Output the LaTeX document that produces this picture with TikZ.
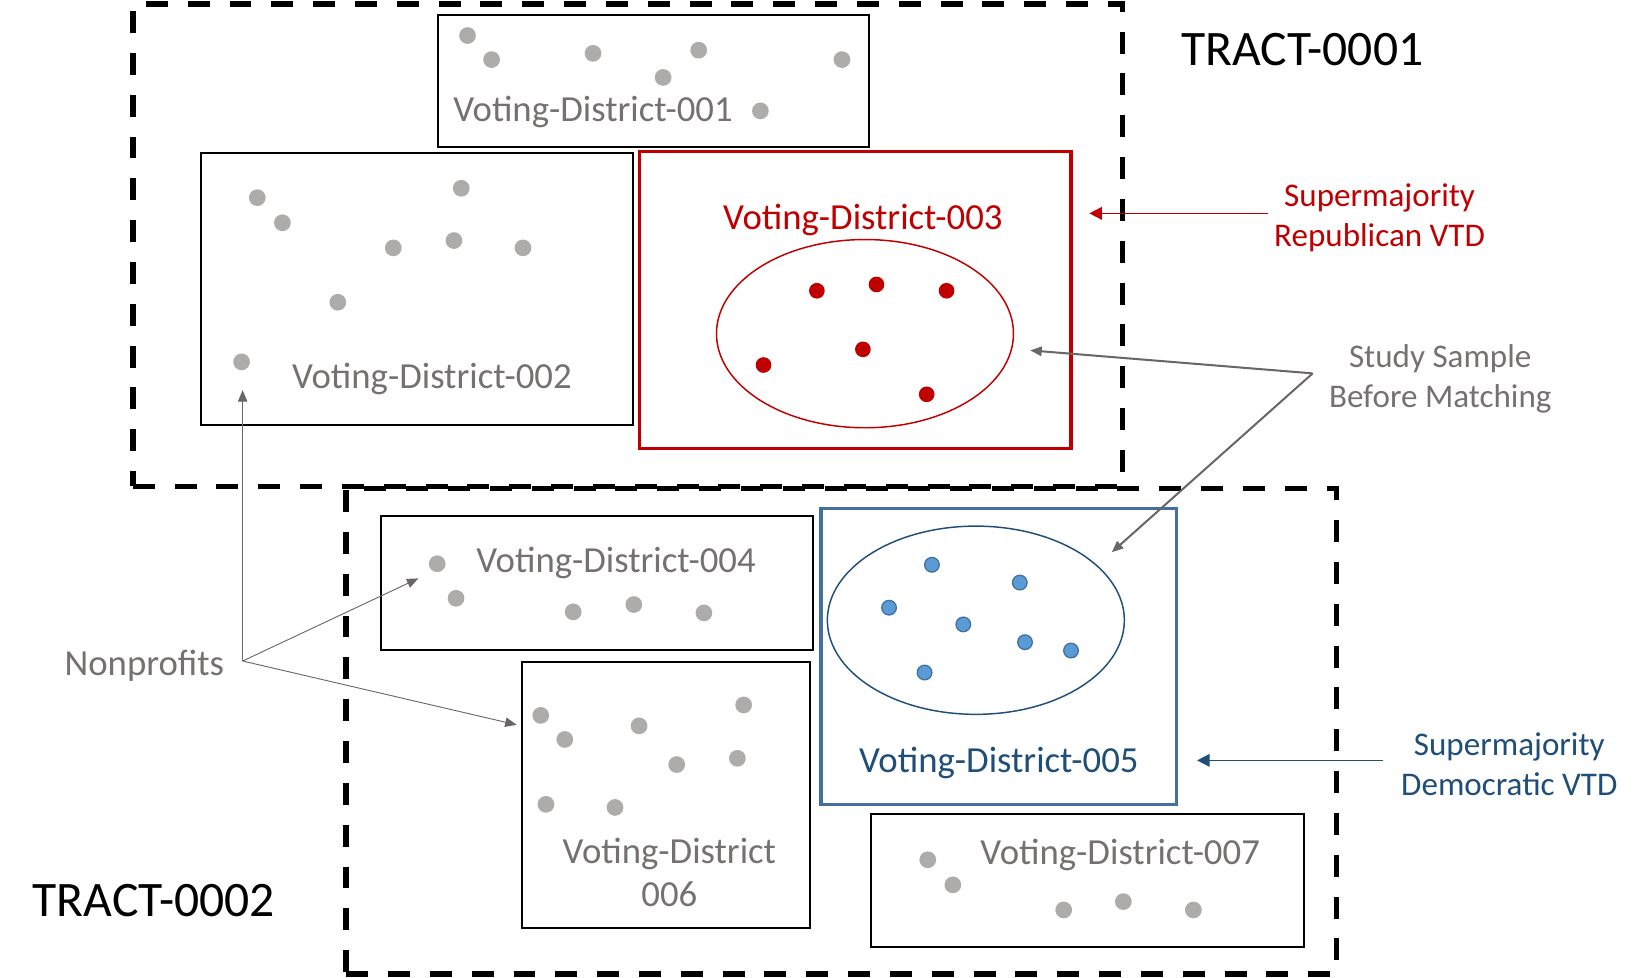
\documentclass[tikz,border=0pt]{standalone}
\usepackage{fontspec}
\setmainfont{Carlito}
\usetikzlibrary{arrows.meta, positioning, shapes.geometric, fit}
\definecolor{txtgray}{HTML}{767171}
\definecolor{dotgray}{HTML}{AEABAB}
\definecolor{repred}{HTML}{C00000}
\definecolor{demblue}{HTML}{41719C}
\definecolor{demnavy}{HTML}{1F4E79}
\definecolor{dotblue}{HTML}{5B9BD5}

\begin{document}
\begin{tikzpicture}[
    x=0.02cm, y=-0.02cm,
    tract/.style={draw=black, line width=3pt, dash pattern=on 0.42cm off 0.38cm, inner sep=0pt},
    vbox/.style={draw=black, line width=1.1pt, inner sep=0pt},
    vlabel/.style={text=txtgray, font=\fontsize{20}{24.5}\selectfont, inner sep=0pt, align=center},
    side/.style={font=\fontsize{18}{21.6}\selectfont, align=center, inner sep=0pt},
    gline/.style={draw=txtgray!90!black, -{Triangle[length=0.22cm, width=0.18cm]}},
    dotg/.style={fill=dotgray},
  ]
  \useasboundingbox (0,0) rectangle (1568,935);

  % Tracts
  \node[tract, fit={(127,4) (1073,465)}] (tract1) {};
  \node[tract, fit={(331,467) (1278,931)}] (tract2) {};
  \node[font=\fontsize{27}{32}\selectfont, inner sep=0pt] (t1lab) at (1245,47) {TRACT-0001};
  \node[font=\fontsize{27}{32}\selectfont, inner sep=0pt] (t2lab) at (147,861) {TRACT-0002};

  % Voting districts
  \node[vbox, fit={(419,14) (831,141)}] (vd1) {};
  \node[vbox, fit={(192,146) (605,406)}] (vd2) {};
  \node[vbox, draw=repred, line width=1.7pt, fit={(611,145) (1024,429)}] (vd3) {};
  \node[vbox, fit={(364,493) (777,621)}] (vd4) {};
  \node[vbox, draw=demblue, line width=1.7pt, fit={(785,486) (1125,769)}] (vd5) {};
  \node[vbox, fit={(499,633) (774,887)}] (vd6) {};
  \node[vbox, fit={(833,778) (1247,905)}] (vd7) {};

  \node[vlabel] (vd1lab) at (567,107) {Voting-District-001};
  \node[vlabel] (vd2lab) at (413,362) {Voting-District-002};
  \node[vlabel, text=repred] (vd3lab) at (825,210) {Voting-District-003};
  \node[vlabel] (vd4lab) at (589,538) {Voting-District-004};
  \node[vlabel, text=demnavy] (vd5lab) at (955,729) {Voting-District-005};
  \node[vlabel, font=\fontsize{20}{23.5}\selectfont] (vd6lab) at (640,834) {Voting-District\\006};
  \node[vlabel] (vd7lab) at (1071,817) {Voting-District-007};

  % Study sample
  \node[ellipse, draw=repred, line width=0.8pt, minimum width=5.68cm, minimum height=3.6cm, inner sep=0pt] (ell3) at (827,319) {};
  \node[ellipse, draw=demnavy, line width=0.8pt, minimum width=5.68cm, minimum height=3.6cm, inner sep=0pt] (ell5) at (933,593) {};

  % Dots
  \foreach \x/\y in {447/34, 470/57, 567/51, 668/48, 634/74, 805/57, 727/106,
                     246/189, 270/213, 441/180, 376/237, 434/230, 500/237, 323/289, 231/346,
                     418/539, 436/572, 548/585, 606/578, 673/586,
                     517/684, 540/707, 611/694, 711/674, 647/731, 705/725, 522/769, 588/772,
                     887/822, 911/846, 1017/870, 1074/862, 1141/870}
    \fill[dotg] (\x,\y) circle (0.16cm);
  \foreach \x/\y in {781/278, 838/272, 905/278, 825/334, 730/349, 886/377}
    \fill[repred] (\x,\y) circle (0.15cm);
  \foreach \x/\y in {891/540, 975/557, 850/581, 921/597, 980/614, 1024/622, 884/643}
    \filldraw[fill=dotblue, draw=demblue, line width=0.7pt] (\x,\y) circle (0.14cm);

  % Side labels
  \node[side, text=repred] (rep) at (1319,208) {Supermajority\\Republican VTD};
  \node[side, text=demnavy] (dem) at (1443,731) {Supermajority\\Democratic VTD};
  \node[side, text=txtgray] (study) at (1377,362) {Study Sample\\Before Matching};
  \node[vlabel] (nonprof) at (138,637) {Nonprofits};

  \coordinate (repstart) at ([xshift=-0.12cm, yshift=0.08cm]rep.west);
  \coordinate (demstart) at ([xshift=-0.34cm, yshift=0.08cm]dem.west);
  \draw[repred, line width=0.9pt, -{Triangle[length=0.24cm, width=0.24cm]}, shorten >=0.32cm]
    (repstart) -- (vd3.east |- repstart);
  \draw[demnavy, line width=0.9pt, -{Triangle[length=0.24cm, width=0.24cm]}, shorten >=0.36cm]
    (demstart) -- (vd5.east |- demstart);

  \coordinate (ss) at (1255,357);
  \coordinate (ss3) at (985,335);
  \coordinate (ss5) at (1063,528);
  \draw[gline, line width=1.1pt] (ss) -- (ss3);
  \draw[gline, line width=1.1pt] (ss) -- (ss5);

  \coordinate (np) at (232,632);
  \coordinate (np2) at (232,373);
  \coordinate (np4) at (400,553);
  \coordinate (np6) at (494,693);
  \draw[gline, line width=0.5pt] (np) -- (np2);
  \draw[gline, line width=0.5pt] (np) -- (np4);
  \draw[gline, line width=0.5pt] (np) -- (np6);
\end{tikzpicture}
\end{document}
